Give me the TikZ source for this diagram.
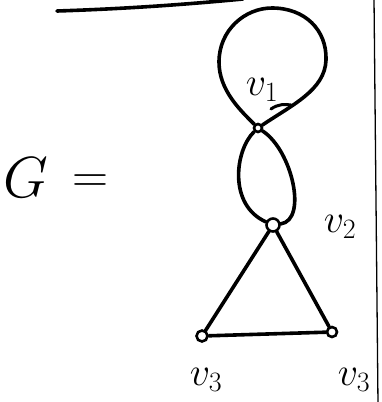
\RequirePackage{fix-cm}
\documentclass[tikz,border=0pt]{standalone}
\tikzset{
  vertex/.style={circle, draw, line width=2.6pt, fill=white, inner sep=0pt, minimum size=9pt},
  edge/.style={line width=3.6pt, line cap=round},
  vlabel/.style={font=\fontsize{40}{42}\selectfont, inner sep=0pt}
}
\begin{document}
\begin{tikzpicture}[x=1pt, y=-1pt]
  \useasboundingbox (0,0) rectangle (382,402);

  % Rand oben und rechts
  \draw[edge] (57,11) .. controls (120,9) and (180,5) .. (243,-1);
  \draw[line width=1.3pt] (374,-2) -- (378,404);

  % G =
  \node[font=\fontsize{58}{60}\selectfont, inner sep=0pt] (G) at (26,178) {$G$};
  \node[font=\fontsize{50}{54}\selectfont, inner sep=0pt] (eq) at (90,184) {$=$};

  % Knoten
  \node[vertex, minimum size=8pt] (v1) at (258,128) {};
  \node[vertex, minimum size=13pt] (v2) at (273,225) {};
  \node[vertex, minimum size=11pt] (v3a) at (202,336) {};
  \node[vertex, minimum size=10pt] (v3b) at (332,332) {};

  % Schlinge an v1
  \draw[edge] (v1) .. controls (240,110) and (219,90) .. (219,62)
               .. controls (219,30) and (245,8) .. (272,8)
               .. controls (305,8) and (327,30) .. (326,60)
               .. controls (325,90) and (292,105) .. (v1);

  % Doppelkante v1 -- v2
  \draw[edge] (v1) .. controls (235,150) and (228,205) .. (v2);
  \draw[edge] (v1) .. controls (292,150) and (308,220) .. (v2);

  % Dreieck
  \draw[edge] (v2) -- (v3a);
  \draw[edge] (v2) -- (v3b);
  \draw[edge] (v3a) -- (v3b);

  % Beschriftungen
  \node[vlabel] (l1) at (262,90) {$v_1$};
  \draw[edge, line width=3pt] (271,109) .. controls (278,104) and (285,104) .. (291,105);
  \node[vlabel] (l2) at (340,227) {$v_2$};
  \node[vlabel] (l3a) at (206,380) {$v_3$};
  \node[vlabel] (l3b) at (354,380) {$v_3$};
\end{tikzpicture}
\end{document}
